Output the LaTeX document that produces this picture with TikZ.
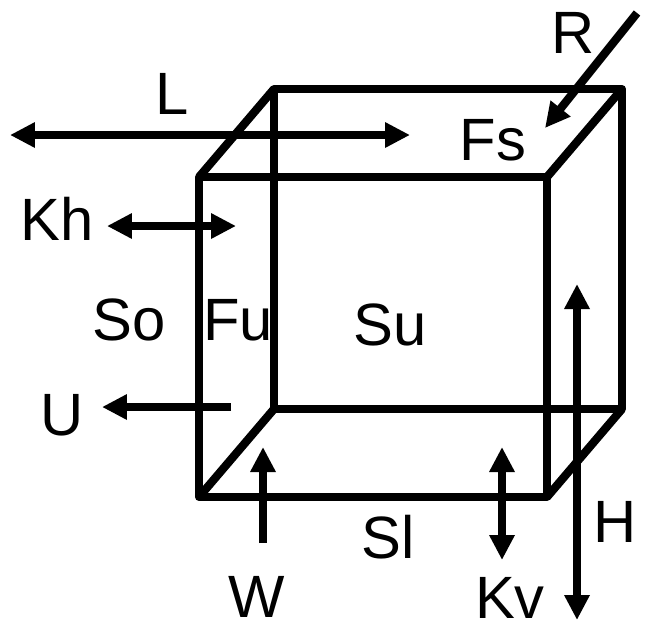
\documentclass[tikz,border=0pt]{standalone}
\usepackage{fontspec}
\setmainfont{Liberation Sans}
\usetikzlibrary{arrows.meta}

\begin{document}
\begin{tikzpicture}[
        x=0.02cm, y=-0.02cm,
        edge/.style={line width=4.7pt, line join=round},
        force/.style={line width=4.7pt, -{Triangle[length=0.5cm, width=0.48cm]}},
        twoway/.style={line width=4.7pt, {Triangle[length=0.5cm, width=0.48cm]}-{Triangle[length=0.5cm, width=0.48cm]}},
        label/.style={inner sep=0pt, font=\fontsize{34}{40}\selectfont}
    ]
        \useasboundingbox (0,0) rectangle (645,630);
        % cube corners
        \coordinate (ftl) at (199,177);
        \coordinate (ftr) at (547,177);
        \coordinate (fbl) at (199,497);
        \coordinate (fbr) at (547,497);
        \coordinate (btl) at (274,89);
        \coordinate (btr) at (622,89);
        \coordinate (bbl) at (274,409);
        \coordinate (bbr) at (622,409);

        \draw[edge] (ftl) -- (ftr) -- (fbr) -- (fbl) -- cycle;
        \draw[edge] (btl) -- (btr) -- (bbr) -- (bbl) -- cycle;
        \draw[edge] (ftl) -- (btl);
        \draw[edge] (ftr) -- (btr);
        \draw[edge] (fbl) -- (bbl);
        \draw[edge] (fbr) -- (bbr);

        % labels
        \node[label] (l) at (172,94) {L};
        \node[label] (r) at (573,33) {R};
        \node[label] (fs) at (493,140) {Fs};
        \node[label] (kh) at (57,219) {Kh};
        \node[label] (so) at (129,320) {So};
        \node[label] (fu) at (238,320) {Fu};
        \node[label] (su) at (390,325) {Su};
        \node[label] (u) at (62,415) {U};
        \node[label] (sl) at (388,537) {Sl};
        \node[label] (h) at (615,522) {H};
        \node[label] (w) at (257,597) {W};
        \node[label] (kv) at (510,598) {Kv};

        % arrow ends
        \coordinate (lw) at (10,135);
        \coordinate (le) at (410,135);
        \coordinate (khw) at (107,226);
        \coordinate (khe) at (236,226);
        \coordinate (ufrom) at (231,407);
        \coordinate (uto) at (102,407);
        \coordinate (wfrom) at (263,543);
        \coordinate (wto) at (263,447);
        \coordinate (kvn) at (502,447);
        \coordinate (kvs) at (502,560);
        \coordinate (hn) at (577,284);
        \coordinate (hs) at (577,620);
        \coordinate (rfrom) at (637,13);
        \coordinate (rto) at (545,128);

        \draw[twoway] (lw) -- (le);
        \draw[twoway] (khw) -- (khe);
        \draw[force] (ufrom) -- (uto);
        \draw[force] (wfrom) -- (wto);
        \draw[twoway] (kvn) -- (kvs);
        \draw[twoway] (hn) -- (hs);
        \draw[force] (rfrom) -- (rto);
    \end{tikzpicture}
\end{document}
